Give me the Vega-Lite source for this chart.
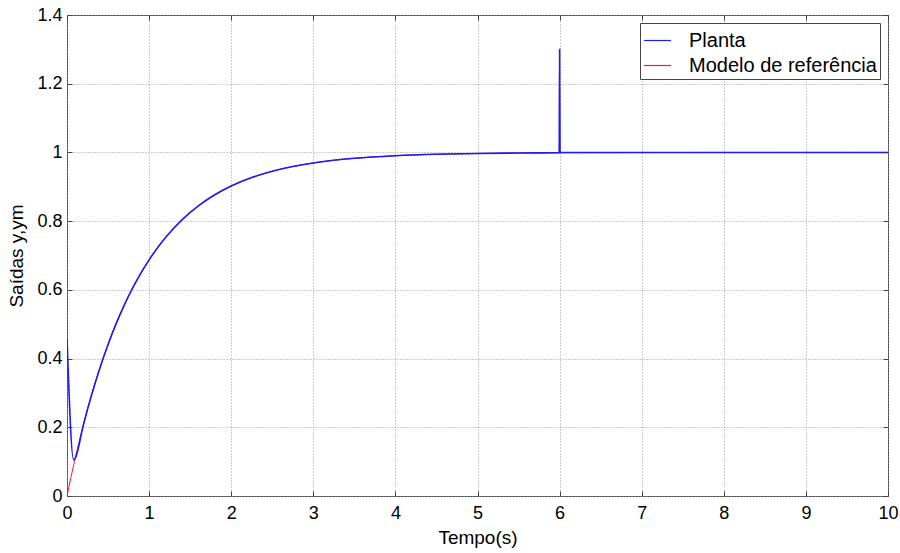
{
  "$schema": "https://vega.github.io/schema/vega-lite/v6.json",
  "width": 821,
  "height": 481,
  "autosize": {"type": "none"},
  "padding": {"left": 67, "top": 15, "right": 12, "bottom": 57},
  "background": "white",
  "config": {
    "font": "Liberation Sans",
    "view": {"stroke": "#444", "strokeWidth": 1},
    "axis": {
      "labelFont": "Liberation Sans",
      "titleFont": "Liberation Sans",
      "labelFontSize": 18,
      "titleFontSize": 19,
      "labelColor": "black",
      "titleColor": "black",
      "titleFontWeight": "normal",
      "labelFlush": false,
      "domain": false,
      "tickColor": "#444",
      "gridColor": "#999",
      "gridDash": [1, 2],
      "gridWidth": 1
    }
  },
  "data": {
    "values": [
      {"series": "Modelo de referência", "t": 0, "y": 0},
      {"series": "Modelo de referência", "t": 0.05, "y": 0.0565},
      {"series": "Modelo de referência", "t": 0.1, "y": 0.1098},
      {"series": "Modelo de referência", "t": 0.2, "y": 0.2075},
      {"series": "Modelo de referência", "t": 0.3, "y": 0.2945},
      {"series": "Modelo de referência", "t": 0.4, "y": 0.3719},
      {"series": "Modelo de referência", "t": 0.5, "y": 0.4409},
      {"series": "Modelo de referência", "t": 0.6, "y": 0.5023},
      {"series": "Modelo de referência", "t": 0.7, "y": 0.5569},
      {"series": "Modelo de referência", "t": 0.8, "y": 0.6055},
      {"series": "Modelo de referência", "t": 0.9, "y": 0.6488},
      {"series": "Modelo de referência", "t": 1.0, "y": 0.6874},
      {"series": "Modelo de referência", "t": 1.2, "y": 0.7522},
      {"series": "Modelo de referência", "t": 1.4, "y": 0.8037},
      {"series": "Modelo de referência", "t": 1.6, "y": 0.8444},
      {"series": "Modelo de referência", "t": 1.8, "y": 0.8767},
      {"series": "Modelo de referência", "t": 2.0, "y": 0.9023},
      {"series": "Modelo de referência", "t": 2.25, "y": 0.9269},
      {"series": "Modelo de referência", "t": 2.5, "y": 0.9454},
      {"series": "Modelo de referência", "t": 2.75, "y": 0.9591},
      {"series": "Modelo de referência", "t": 3.0, "y": 0.9694},
      {"series": "Modelo de referência", "t": 3.5, "y": 0.9829},
      {"series": "Modelo de referência", "t": 4.0, "y": 0.9904},
      {"series": "Modelo de referência", "t": 4.5, "y": 0.9947},
      {"series": "Modelo de referência", "t": 5.0, "y": 0.997},
      {"series": "Modelo de referência", "t": 5.5, "y": 0.9983},
      {"series": "Modelo de referência", "t": 6.0, "y": 0.9991},
      {"series": "Modelo de referência", "t": 7.0, "y": 0.9997},
      {"series": "Modelo de referência", "t": 8.0, "y": 0.9999},
      {"series": "Modelo de referência", "t": 10.0, "y": 1.0},
      {"series": "Planta", "t": 0, "y": 0.46},
      {"series": "Planta", "t": 0.08, "y": 0.105},
      {"series": "Planta", "t": 0.1, "y": 0.1098},
      {"series": "Planta", "t": 0.2, "y": 0.2075},
      {"series": "Planta", "t": 0.3, "y": 0.2945},
      {"series": "Planta", "t": 0.4, "y": 0.3719},
      {"series": "Planta", "t": 0.5, "y": 0.4409},
      {"series": "Planta", "t": 0.6, "y": 0.5023},
      {"series": "Planta", "t": 0.7, "y": 0.5569},
      {"series": "Planta", "t": 0.8, "y": 0.6055},
      {"series": "Planta", "t": 0.9, "y": 0.6488},
      {"series": "Planta", "t": 1.0, "y": 0.6874},
      {"series": "Planta", "t": 1.2, "y": 0.7522},
      {"series": "Planta", "t": 1.4, "y": 0.8037},
      {"series": "Planta", "t": 1.6, "y": 0.8444},
      {"series": "Planta", "t": 1.8, "y": 0.8767},
      {"series": "Planta", "t": 2.0, "y": 0.9023},
      {"series": "Planta", "t": 2.25, "y": 0.9269},
      {"series": "Planta", "t": 2.5, "y": 0.9454},
      {"series": "Planta", "t": 2.75, "y": 0.9591},
      {"series": "Planta", "t": 3.0, "y": 0.9694},
      {"series": "Planta", "t": 3.5, "y": 0.9829},
      {"series": "Planta", "t": 4.0, "y": 0.9904},
      {"series": "Planta", "t": 4.5, "y": 0.9947},
      {"series": "Planta", "t": 5.0, "y": 0.997},
      {"series": "Planta", "t": 5.5, "y": 0.9983},
      {"series": "Planta", "t": 5.995, "y": 0.9991},
      {"series": "Planta", "t": 6.0, "y": 1.3},
      {"series": "Planta", "t": 6.005, "y": 1.0},
      {"series": "Planta", "t": 7.0, "y": 0.9997},
      {"series": "Planta", "t": 8.0, "y": 0.9999},
      {"series": "Planta", "t": 10.0, "y": 1.0}
    ]
  },
  "layer": [
    {
      "layer": [
        {
          "transform": [{"filter": "datum.series === 'Modelo de referência'"}],
          "mark": {"type": "line", "strokeWidth": 1, "clip": true, "interpolate": "monotone"},
          "encoding": {
            "x": {"field": "t", "type": "quantitative"},
            "y": {"field": "y", "type": "quantitative"},
            "stroke": {
              "field": "series", "type": "nominal",
              "scale": {"domain": ["Planta", "Modelo de referência"], "range": ["#1a1aff", "#ff1a1a"]},
              "legend": {
                "title": null,
                "orient": "none",
                "legendX": 573,
                "legendY": 8,
                "symbolType": "stroke",
                "symbolSize": 729,
                "symbolStrokeWidth": 1.2,
                "labelFontSize": 20,
                "labelFont": "Liberation Sans",
                "labelColor": "black",
                "labelOffset": 17,
                "rowPadding": 0,
                "padding": 3,
                "fillColor": "white",
                "strokeColor": "#444",
                "labelLimit": 400
              }
            }
          }
        },
        {
          "transform": [{"filter": "datum.series === 'Planta'"}],
          "mark": {"type": "line", "strokeWidth": 1.6, "clip": true, "interpolate": "monotone"},
          "encoding": {
            "x": {
              "field": "t", "type": "quantitative",
              "scale": {"domain": [0, 10], "nice": false, "zero": false},
              "axis": {"orient": "bottom", "title": "Tempo(s)", "values": [0,1,2,3,4,5,6,7,8,9,10], "format": "~g", "tickSize": -5, "labelPadding": 13, "titlePadding": 6, "grid": true}
            },
            "y": {
              "field": "y", "type": "quantitative",
              "scale": {"domain": [0, 1.4], "nice": false, "zero": false},
              "axis": {"orient": "left", "title": "Saídas y,ym", "values": [0,0.2,0.4,0.6,0.8,1,1.2,1.4], "format": "~g", "tickSize": -5, "labelPadding": 10, "titlePadding": 10, "grid": true}
            },
            "stroke": {"field": "series", "type": "nominal"}
          }
        }
      ]
    },
    {
      "mark": {"type": "line", "opacity": 0},
      "encoding": {
        "x": {"field": "t", "type": "quantitative", "axis": {"orient": "top", "labels": false, "title": null, "grid": false, "tickSize": -5, "values": [0,1,2,3,4,5,6,7,8,9,10]}},
        "y": {"field": "y", "type": "quantitative", "axis": {"orient": "right", "labels": false, "title": null, "grid": false, "tickSize": -5, "values": [0,0.2,0.4,0.6,0.8,1,1.2,1.4]}},
        "detail": {"field": "series"}
      }
    }
  ],
  "resolve": {"axis": {"x": "independent", "y": "independent"}}
}
